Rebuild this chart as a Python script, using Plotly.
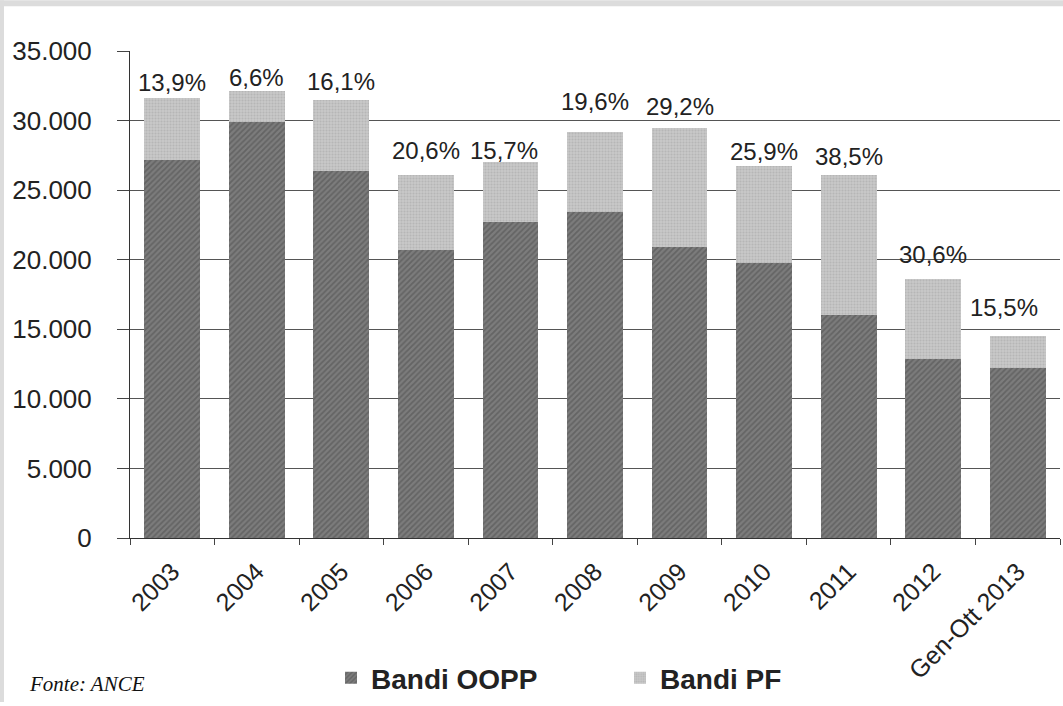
import plotly.graph_objects as go

# ---- data ----
categories = ["2003", "2004", "2005", "2006", "2007", "2008", "2009",
              "2010", "2011", "2012", "Gen-Ott 2013"]
bandi_oopp = [27200, 29900, 26400, 20700, 22700, 23400, 20900,
              19800, 16000, 12900, 12200]
bandi_pf = [4400, 2200, 5100, 5400, 4300, 5800, 8600,
            6900, 10100, 5700, 2300]
pf_share_labels = ["13,9%", "6,6%", "16,1%", "20,6%", "15,7%", "19,6%",
                   "29,2%", "25,9%", "38,5%", "30,6%", "15,5%"]
y_tickvals = [0, 5000, 10000, 15000, 20000, 25000, 30000, 35000]

# ---- styling ----
W, H = 1063, 706
ML, MR, MT, MB = 130, 3, 51, 165
PW, PH = W - ML - MR, H - MT - MB
FONT = "Liberation Sans, Arial, sans-serif"
TXT = "#222222"
label_yshift = [16, 14, 18, 24, 12, 30, 21, 15, 18, 25, 29]
label_xshift = [0, 0, 0, 0, -6, 0, 0, 0, 0, 0, -14]


def px_x(px):
    return (px - ML) / PW


def px_y(py):
    return (H - MB - py) / PH


fig = go.Figure()
fig.add_trace(go.Bar(x=categories, y=bandi_oopp, name="Bandi OOPP",
                     marker=dict(color="#767676", line=dict(width=0),
                                 pattern=dict(shape="/", fgcolor="#4c4c4c",
                                              bgcolor="#7c7c7c", size=4,
                                              solidity=0.45))))
fig.add_trace(go.Bar(x=categories, y=bandi_pf, name="Bandi PF",
                     marker=dict(color="#c2c2c2", line=dict(width=0),
                                 pattern=dict(shape=".", fgcolor="#a4a4a4",
                                              bgcolor="#c8c8c8", size=3,
                                              solidity=0.4))))

totals = [a + b for a, b in zip(bandi_oopp, bandi_pf)]
for i, (t, lab) in enumerate(zip(totals, pf_share_labels)):
    # x given as the category index on the category axis
    fig.add_annotation(x=i, y=t, text=lab, showarrow=False,
                       xanchor="center", yanchor="middle",
                       yshift=label_yshift[i], xshift=label_xshift[i],
                       font=dict(family=FONT, size=24, color=TXT))

fig.add_annotation(xref="paper", yref="paper", x=px_x(27), y=px_y(688),
                   xanchor="left", yanchor="middle", showarrow=False,
                   text="<i>Fonte: ANCE</i>",
                   font=dict(family="Liberation Serif, Times New Roman, serif",
                             size=21, color="#111111"))

# light dotted-looking border at top and left edges
fig.add_shape(type="rect", xref="paper", yref="paper",
              x0=px_x(0), x1=px_x(W), y0=px_y(6), y1=px_y(0),
              fillcolor="#dcdcdc", line=dict(width=0), layer="below")
fig.add_shape(type="rect", xref="paper", yref="paper",
              x0=px_x(0), x1=px_x(4), y0=px_y(H), y1=px_y(0),
              fillcolor="#dcdcdc", line=dict(width=0), layer="below")

fig.update_layout(
    width=W, height=H,
    margin=dict(l=ML, r=MR, t=MT, b=MB, pad=0),
    barmode="stack", bargap=0.34,
    paper_bgcolor="white", plot_bgcolor="white",
    separators=",.",
    font=dict(family=FONT, color=TXT),
    showlegend=True,
    legend=dict(orientation="h", x=px_x(331), y=px_y(682),
                xanchor="left", yanchor="middle",
                entrywidth=244, entrywidthmode="pixels",
                traceorder="normal",
                font=dict(family=FONT, size=28, color=TXT, weight="bold"),
                bgcolor="rgba(0,0,0,0)"),
    xaxis=dict(type="category", categoryorder="array",
               categoryarray=categories, range=[-0.5, len(categories) - 0.5],
               showline=True, linecolor="#333333",
               linewidth=1, ticks="outside", tickson="boundaries",
               ticklen=6, tickcolor="#444444", tickangle=-45,
               ticklabelstandoff=8,
               tickfont=dict(family=FONT, size=25, color=TXT),
               showgrid=False, fixedrange=True),
    yaxis=dict(range=[0, 35000], tickvals=y_tickvals, tickformat=",d",
               showline=True, linecolor="#333333", linewidth=1,
               ticks="outside", ticklen=12, tickcolor="#444444",
               showgrid=True, gridcolor="#555555", gridwidth=1,
               zeroline=False, ticklabelstandoff=20,
               tickfont=dict(family=FONT, size=26, color=TXT),
               fixedrange=True),
)

fig.write_html("out.html")
